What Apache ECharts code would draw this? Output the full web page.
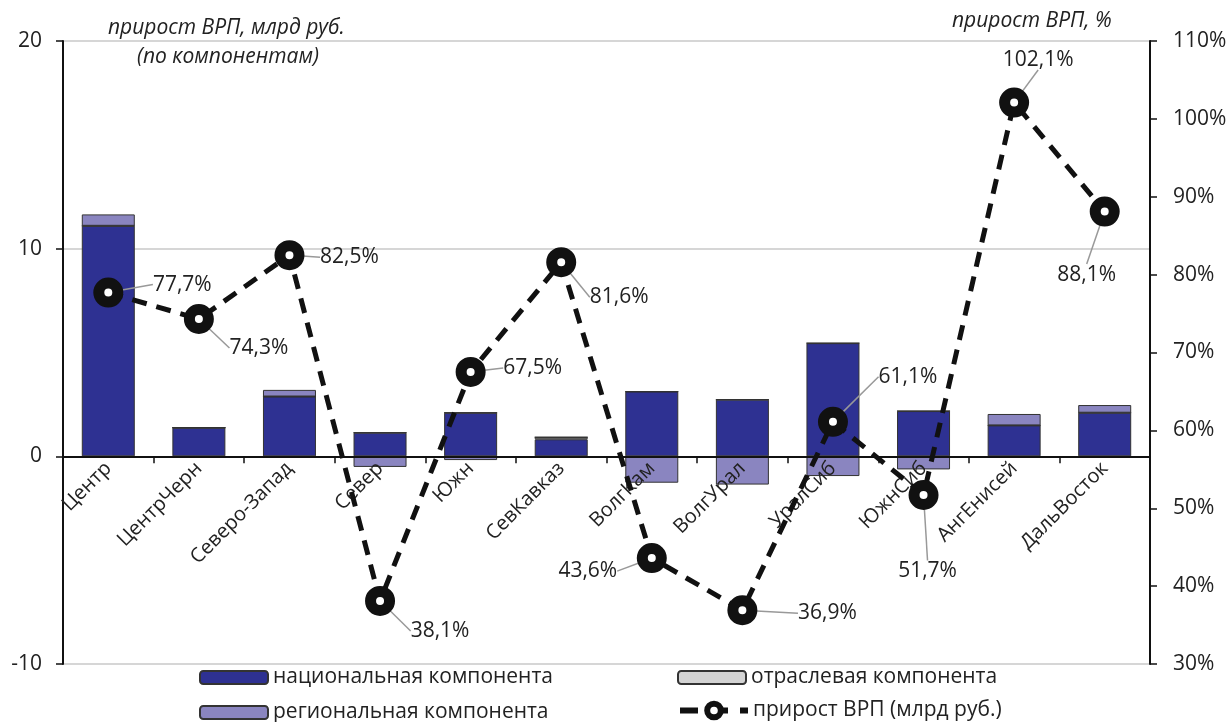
<!DOCTYPE html>
<html><head><meta charset="utf-8">
<script src="https://cdn.jsdelivr.net/npm/echarts@6/dist/echarts.min.js"></script>
<style>html,body{margin:0;padding:0;background:#fff}#c{width:1229px;height:722px}</style>
</head><body><div id="c"></div>
<script>
const categories = ['Центр','ЦентрЧерн','Северо-Запад','Север','Южн','СевКавказ','ВолгКам','ВолгУрал','УралСиб','ЮжнСиб','АнгЕнисей','ДальВосток'];
const national = [11.1, 1.38, 2.88, 1.14, 2.1, 0.82, 3.12, 2.73, 5.45, 2.18, 1.49, 2.1];
const industry = [0, 0, 0, 0, 0, 0.1, 0, 0, 0, 0, 0, 0];
const regional = [0.55, 0, 0.32, -0.51, -0.18, 0, -1.27, -1.36, -0.95, -0.63, 0.55, 0.37];
const growthPct = [77.7, 74.3, 82.5, 38.1, 67.5, 81.6, 43.6, 36.9, 61.1, 51.7, 102.1, 88.1];
const leftTicks = {min: -10, max: 20, interval: 10};
const rightTicks = {min: 30, max: 110, interval: 10};
// label displacement relative to point (px)
const labelShift = [[74,-8],[60,29],[60,2],[60,30],[62,-4],[58,35],[-64,13],[85,3],[75,-45],[4,76],[24,-43],[-18,63]];

const FONT = 'Open Sans';
const FS = 21;
const W = 1229, H = 722;
const GRID = {left:63, right:79, top:41, bottom:58};
const gridH = H - GRID.top - GRID.bottom;
// shift the category axis (line, ticks, labels) up to the value 0 of the left axis
const xOffset = -gridH * (0 - leftTicks.min) / (leftTicks.max - leftTicks.min);

const legendText = {fontSize:FS, fontFamily:FONT, color:'#222'};
function oneLegend(name, left, top, extra){
  return Object.assign({data:[name], left:left, top:top, padding:0, itemWidth:68, itemHeight:13, itemGap:0, textStyle:legendText}, extra || {});
}
const chart = echarts.init(document.getElementById('c'));
const barCommon = {type:'bar', stack:'comp', barWidth:53};
chart.setOption({
  animation:false,
  textStyle:{fontFamily:FONT, color:'#222'},
  grid:Object.assign({containLabel:false, outerBoundsMode:'none'}, GRID),
  graphic:[
    {type:'text', left:108, top:18, style:{text:'прирост ВРП, млрд руб.', font:'italic '+FS+'px "'+FONT+'"', fill:'#222'}},
    {type:'text', left:137, top:47, style:{text:'(по компонентам)', font:'italic '+FS+'px "'+FONT+'"', fill:'#222'}},
    {type:'text', left:952, top:11, style:{text:'прирост ВРП, %', font:'italic '+FS+'px "'+FONT+'"', fill:'#222'}}
  ],
  legend:[
    oneLegend('национальная компонента', 199, 667),
    oneLegend('региональная компонента', 199, 702),
    oneLegend('отраслевая компонента', 677, 667),
    oneLegend('прирост ВРП (млрд руб.)', 677, 700, {itemHeight:17, lineStyle:{width:6, type:[18,12]}, itemStyle:{borderWidth:6}})
  ],
  xAxis:{type:'category', data:categories, position:'bottom', offset:xOffset, z:5,
    axisLine:{onZero:false, lineStyle:{color:'#111', width:2}},
    axisTick:{show:true, length:7, lineStyle:{color:'#111', width:1.5}},
    axisLabel:{rotate:45, fontSize:20, color:'#222', margin:9, interval:0}
  },
  yAxis:[
    {type:'value', min:leftTicks.min, max:leftTicks.max, interval:leftTicks.interval,
     axisLine:{show:true, lineStyle:{color:'#111', width:2}},
     axisTick:{show:true, length:7, lineStyle:{color:'#111', width:1.5}},
     axisLabel:{fontSize:FS, color:'#222', margin:21},
     splitLine:{show:true, lineStyle:{color:'#c8c8c8', width:1.5}}},
    {type:'value', min:rightTicks.min, max:rightTicks.max, interval:rightTicks.interval, position:'right',
     axisLine:{show:true, lineStyle:{color:'#111', width:2}},
     axisTick:{show:true, length:7, lineStyle:{color:'#111', width:1.5}},
     axisLabel:{fontSize:FS, color:'#222', margin:23, formatter:'{value}%'},
     splitLine:{show:false}}
  ],
  series:[
    Object.assign({}, barCommon, {name:'национальная компонента', data:national, itemStyle:{color:'#2E3192', borderColor:'#333', borderWidth:1}}),
    Object.assign({}, barCommon, {name:'отраслевая компонента', data:industry, itemStyle:{color:'#D3D3D3', borderColor:'#333', borderWidth:1}}),
    Object.assign({}, barCommon, {name:'региональная компонента', data:regional, itemStyle:{color:'#8A85C0', borderColor:'#333', borderWidth:1}}),
    {name:'прирост ВРП (млрд руб.)', type:'line', yAxisIndex:1, data:growthPct, z:10,
     symbol:'circle', symbolSize:19,
     lineStyle:{color:'#111', width:5, type:[15,10]},
     itemStyle:{color:'#fff', borderColor:'#111', borderWidth:11},
     label:{show:true, position:'inside', fontSize:FS, color:'#222',
       formatter:p=>p.value.toFixed(1).replace('.',',')+'%'},
     labelLine:{show:true, lineStyle:{color:'#999', width:1.5}},
     labelLayout:p=>({dx:labelShift[p.dataIndex][0], dy:labelShift[p.dataIndex][1]})
    }
  ]
});
</script></body></html>
